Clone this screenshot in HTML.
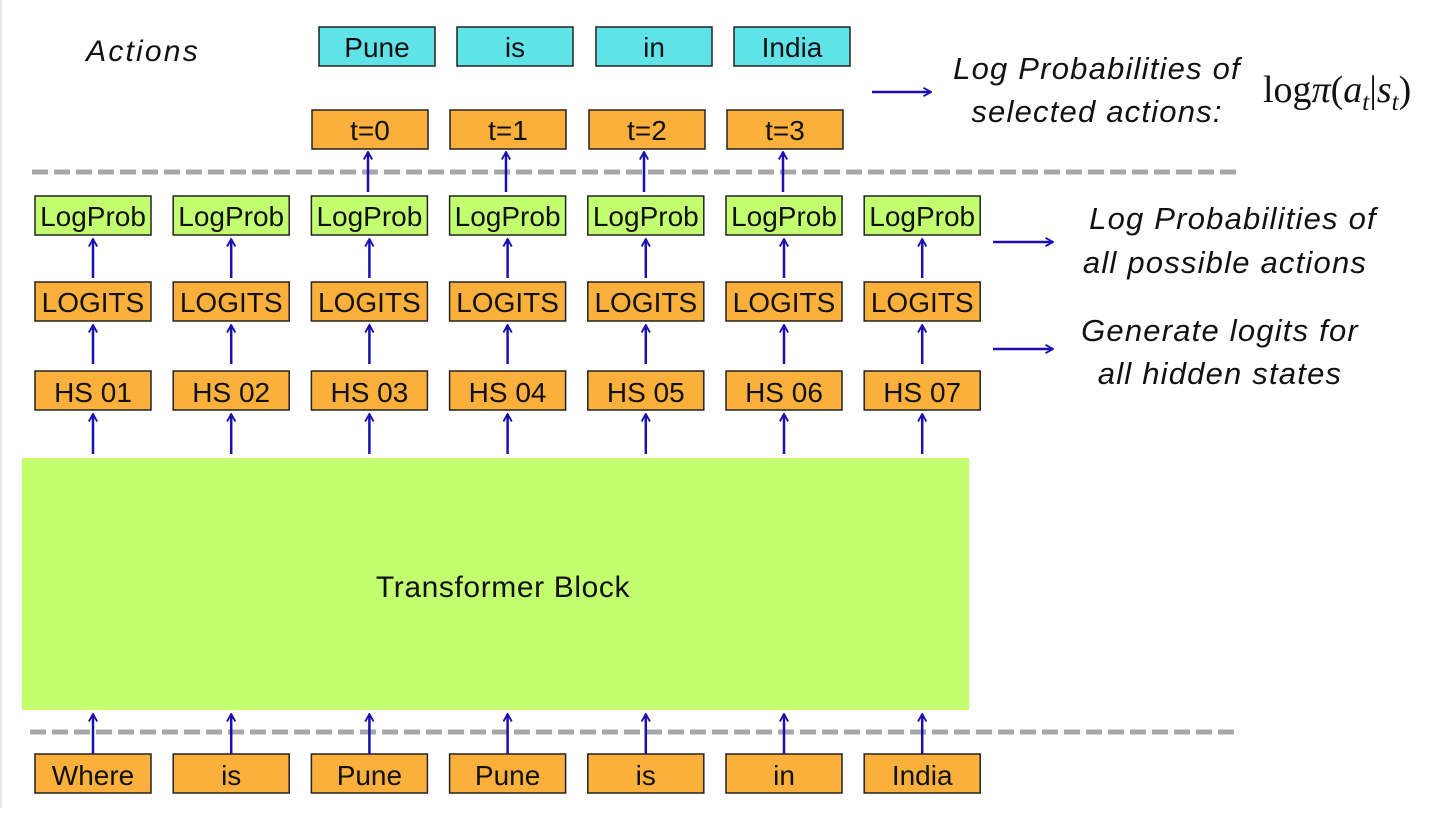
<!DOCTYPE html>
<html><head><meta charset="utf-8"><style>
html,body{margin:0;padding:0;background:#fff;}
svg text{font-family:"Liberation Sans",sans-serif;}
</style></head><body>
<svg width="1456" height="808" viewBox="0 0 1456 808" xmlns="http://www.w3.org/2000/svg">
<defs>
<marker id="ah" viewBox="0 0 12 12" refX="11" refY="6" markerWidth="10" markerHeight="10" orient="auto-start-reverse" markerUnits="userSpaceOnUse">
<path d="M2,1 L11,6 L2,11" fill="none" stroke="#1a0fb0" stroke-width="2.2"/>
</marker>
</defs>
<rect x="0" y="0" width="2" height="808" fill="#e6e6f0"/>
<g stroke="#a8a8a8" stroke-width="5" stroke-dasharray="16,6">
<line x1="32" y1="172" x2="1238" y2="172"/>
<line x1="30" y1="732" x2="1238" y2="732"/>
</g>
<rect x="22" y="458" width="947" height="252" fill="#c3fe71"/>
<text x="503" y="597" font-size="30" letter-spacing="0.6" text-anchor="middle" fill="#111">Transformer Block</text>
<text x="143" y="61" font-size="30" letter-spacing="2.2" font-style="italic" text-anchor="middle" fill="#111">Actions</text>
<g stroke="#1a0fb0" stroke-width="2.5" marker-end="url(#ah)">
<line x1="368" y1="192" x2="368" y2="152"/>
<line x1="506" y1="192" x2="506" y2="152"/>
<line x1="644" y1="192" x2="644" y2="152"/>
<line x1="783" y1="192" x2="783" y2="152"/>
<line x1="872" y1="92" x2="931" y2="92"/>
<line x1="993" y1="242" x2="1053" y2="242"/>
<line x1="993" y1="349" x2="1053" y2="349"/>
</g>
<g id="cols"></g>
<g font-size="28" text-anchor="middle" fill="#111">
<rect x="319" y="27" width="116" height="39" fill="#60e3e8" stroke="#222" stroke-width="1.5"/><text x="377" y="57">Pune</text>
<rect x="457" y="27" width="116" height="39" fill="#60e3e8" stroke="#222" stroke-width="1.5"/><text x="515" y="57">is</text>
<rect x="596" y="27" width="116" height="39" fill="#60e3e8" stroke="#222" stroke-width="1.5"/><text x="654" y="57">in</text>
<rect x="734" y="27" width="116" height="39" fill="#60e3e8" stroke="#222" stroke-width="1.5"/><text x="792" y="57">India</text>
<rect x="312" y="110" width="116" height="39" fill="#fbb03b" stroke="#222" stroke-width="1.5"/><text x="370" y="140">t=0</text>
<rect x="450" y="110" width="116" height="39" fill="#fbb03b" stroke="#222" stroke-width="1.5"/><text x="508" y="140">t=1</text>
<rect x="589" y="110" width="116" height="39" fill="#fbb03b" stroke="#222" stroke-width="1.5"/><text x="647" y="140">t=2</text>
<rect x="727" y="110" width="116" height="39" fill="#fbb03b" stroke="#222" stroke-width="1.5"/><text x="785" y="140">t=3</text>
</g>
<g font-size="31" letter-spacing="1.2" font-style="italic" text-anchor="middle" fill="#111">
<text x="1097" y="79">Log Probabilities of</text>
<text x="1097" y="122">selected actions:</text>
<text x="1233" y="229">Log Probabilities of</text>
<text x="1225" y="273">all possible actions</text>
<text x="1220" y="341">Generate logits for</text>
<text x="1220" y="384">all hidden states</text>
</g>
<text x="1263" y="102" style="font-family:'Liberation Serif',serif" font-size="38" fill="#111">log<tspan font-style="italic">π</tspan>(<tspan font-style="italic">a</tspan><tspan font-style="italic" font-size="25" dy="8">t</tspan><tspan dy="-8">|</tspan><tspan font-style="italic">s</tspan><tspan font-style="italic" font-size="25" dy="8">t</tspan><tspan dy="-8">)</tspan></text>
<script>
var g=document.getElementById('cols'),ns="http://www.w3.org/2000/svg";
var hs=["HS 01","HS 02","HS 03","HS 04","HS 05","HS 06","HS 07"];
var inp=["Where","is","Pune","Pune","is","in","India"];
function rect(x,y,fill){var r=document.createElementNS(ns,'rect');r.setAttribute('x',x);r.setAttribute('y',y);r.setAttribute('width',116);r.setAttribute('height',39);r.setAttribute('fill',fill);r.setAttribute('stroke','#222');r.setAttribute('stroke-width','1.5');g.appendChild(r);}
function txt(x,y,s){var t=document.createElementNS(ns,'text');t.setAttribute('x',x);t.setAttribute('y',y);t.setAttribute('font-size','28');t.setAttribute('text-anchor','middle');t.setAttribute('fill','#111');t.textContent=s;g.appendChild(t);}
function arr(x,y1,y2){var l=document.createElementNS(ns,'line');l.setAttribute('x1',x);l.setAttribute('x2',x);l.setAttribute('y1',y1);l.setAttribute('y2',y2);l.setAttribute('stroke','#1a0fb0');l.setAttribute('stroke-width','2.5');l.setAttribute('marker-end','url(#ah)');g.appendChild(l);}
for(var i=0;i<7;i++){var x=35+i*138.2,c=x+58;
rect(x,196,'#c3fe71');txt(c,226,'LogProb');
rect(x,282,'#fbb03b');txt(c,312,'LOGITS');
rect(x,371,'#fbb03b');txt(c,402,hs[i]);
rect(x,754,'#fbb03b');txt(c,785,inp[i]);
arr(c,278,239);arr(c,364,325);arr(c,454,414);arr(c,754,714);}
</script>
</svg>
</body></html>
